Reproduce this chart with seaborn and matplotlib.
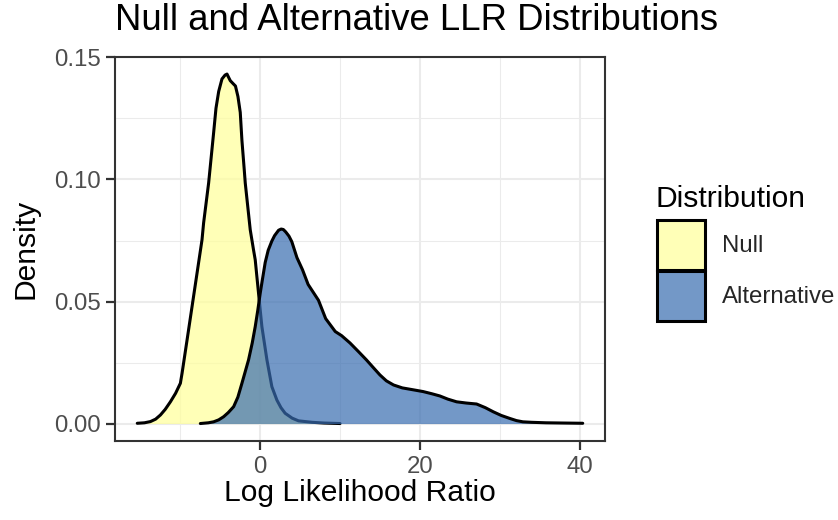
import numpy as np
import pandas as pd
import matplotlib
matplotlib.use("Agg")
import matplotlib.pyplot as plt
from matplotlib.patches import Patch
from matplotlib.colors import to_rgba
import seaborn as sns

# ---- data ----
null_x = [-15.4, -14.5, -13.75, -13.1, -12.5, -11.9, -11.25, -10.6, -10.0, -9.79,
          -9.16, -8.54, -7.91, -7.29, -7.09, -6.46, -5.84, -5.54, -5.2, -4.79,
          -4.4, -4.16, -3.95, -3.75, -3.4, -3.1, -2.79, -2.5, -2.29, -2.0,
          -1.875, -1.25, -0.84, -0.625, -0.21, 0.21, 0.84, 1.46, 2.09, 2.6,
          3.125, 4.0, 4.8, 6.5, 8.0, 10.0]
null_d = [0.0001, 0.0003, 0.0008, 0.0018, 0.0035, 0.0058, 0.0089, 0.0124, 0.0165, 0.0206,
          0.0343, 0.0479, 0.0617, 0.0753, 0.0822, 0.0986, 0.1190, 0.1292, 0.1361, 0.1412,
          0.1428, 0.1432, 0.1418, 0.1405, 0.1393, 0.1383, 0.1340, 0.1275, 0.1160, 0.1040,
          0.0986, 0.0794, 0.0712, 0.0671, 0.0534, 0.0397, 0.0261, 0.0151, 0.0096, 0.0065,
          0.0042, 0.0022, 0.0011, 0.0005, 0.0002, 0.0000]

alt_x = [-7.5, -6.5, -5.84, -5.2, -4.58, -4.0, -3.33, -2.8, -2.29, -1.9,
         -1.46, -1.0, -0.625, -0.3, 0.0, 0.3, 0.625, 1.0, 1.46, 1.8,
         2.3, 2.625, 2.9, 3.2, 3.6, 3.96, 4.6, 5.3, 6.0, 7.3,
         8.2, 9.4, 10.2, 11.25, 12.3, 13.3, 14.2, 15.0, 15.8, 16.7,
         17.8, 19.2, 20.4, 21.5, 22.5, 23.5, 24.6, 25.8, 27.1, 28.2,
         29.2, 30.2, 31.25, 32.1, 32.9, 34.0, 35.8, 38.0, 40.4]
alt_d = [0.0000, 0.0003, 0.0007, 0.0015, 0.0028, 0.0045, 0.0069, 0.0108, 0.0165, 0.0210,
         0.0261, 0.0330, 0.0397, 0.0465, 0.0534, 0.0595, 0.0660, 0.0710, 0.0748, 0.0770,
         0.0792, 0.0797, 0.0795, 0.0785, 0.0768, 0.0745, 0.0680, 0.0630, 0.0570, 0.0505,
         0.0430, 0.0377, 0.0360, 0.0330, 0.0295, 0.0261, 0.0228, 0.0199, 0.0175, 0.0158,
         0.0146, 0.0138, 0.0131, 0.0122, 0.0113, 0.0100, 0.0089, 0.0084, 0.0080, 0.0065,
         0.0048, 0.0033, 0.0021, 0.0012, 0.0007, 0.0005, 0.0003, 0.0002, 0.0001]

groups = ["Null", "Alternative"]
fill_colors = ["#FFFF99", "#386CB0"]
x_ticks = [0, 20, 40]
y_ticks = [0.00, 0.05, 0.10, 0.15]
y_tick_labels = ["0.00", "0.05", "0.10", "0.15"]

title = "Null and Alternative LLR Distributions"
x_label = "Log Likelihood Ratio"
y_label = "Density"
legend_title = "Distribution"

# ---- style ----
sns.set_style("white")
plt.rcParams['font.family'] = ['Liberation Sans', 'DejaVu Sans']

W, H = 838, 520
fig = plt.figure(figsize=(W / 100, H / 100), dpi=100)
ax = fig.add_axes([115 / W, 79 / H, 490 / W, 384.4 / H])

df = pd.concat([
    pd.DataFrame({"x": null_x, "density": null_d, "Distribution": groups[0]}),
    pd.DataFrame({"x": alt_x, "density": alt_d, "Distribution": groups[1]}),
], ignore_index=True)

z = 2
for g, col in zip(groups, fill_colors):
    sub = df[df["Distribution"] == g]
    ax.fill_between(sub["x"], sub["density"], 0, color=to_rgba(col, 0.7),
                    linewidth=0, zorder=z)
    sns.lineplot(data=sub, x="x", y="density", color="black", linewidth=2.2,
                 sort=False, estimator=None, ax=ax, zorder=z + 1)
    z += 2

# limits with ggplot-style 5% expansion
xmin, xmax = df["x"].min(), df["x"].max()
xr = xmax - xmin
ax.set_xlim(xmin - 0.05 * xr, xmax + 0.05 * xr)
ymax = df["density"].max()
ax.set_ylim(-0.05 * ymax, ymax * 1.05)

ax.set_xticks(x_ticks)
ax.set_xticks([-10, 10, 30], minor=True)
ax.set_yticks(y_ticks)
ax.set_yticklabels(y_tick_labels)
ax.set_yticks([0.025, 0.075, 0.125], minor=True)

ax.grid(which="major", color="#EBEBEB", linewidth=1.5, zorder=0)
ax.grid(which="minor", color="#EBEBEB", linewidth=0.75, zorder=0)
ax.set_axisbelow(True)

for s in ax.spines.values():
    s.set_color("#333333")
    s.set_linewidth(1.5)
    s.set_visible(True)

ax.tick_params(which="major", direction="out", length=6.5, width=1.6,
               color="#333333", labelsize=17.3, labelcolor="#4D4D4D", pad=4,
               bottom=True, left=True)
ax.tick_params(which="minor", length=0)

ax.set_xlabel(x_label, fontsize=21.6, color="black", labelpad=1)
ax.set_ylabel(y_label, fontsize=21.6, color="black", labelpad=10)

fig.text(115 / W, 1 - 30 / H, title, fontsize=26.3, color="black",
         ha="left", va="baseline")

# legend: title as text, keys below
fig.text(655 / W, 1 - 207 / H, legend_title, fontsize=21.6, color="black",
         ha="left", va="baseline")
handles = [Patch(facecolor=to_rgba(c, 0.7), edgecolor="black", linewidth=2.2, label=g)
           for g, c in zip(groups, fill_colors)]
leg = fig.legend(handles=handles, loc="upper left",
                 bbox_to_anchor=(657 / W, 1 - 220 / H), bbox_transform=fig.transFigure,
                 frameon=False, fontsize=17.3,
                 handlelength=2.0, handleheight=2.83, handletextpad=0.7,
                 labelspacing=0.05, borderpad=0, borderaxespad=0)

fig.savefig("out.png", dpi=100)
